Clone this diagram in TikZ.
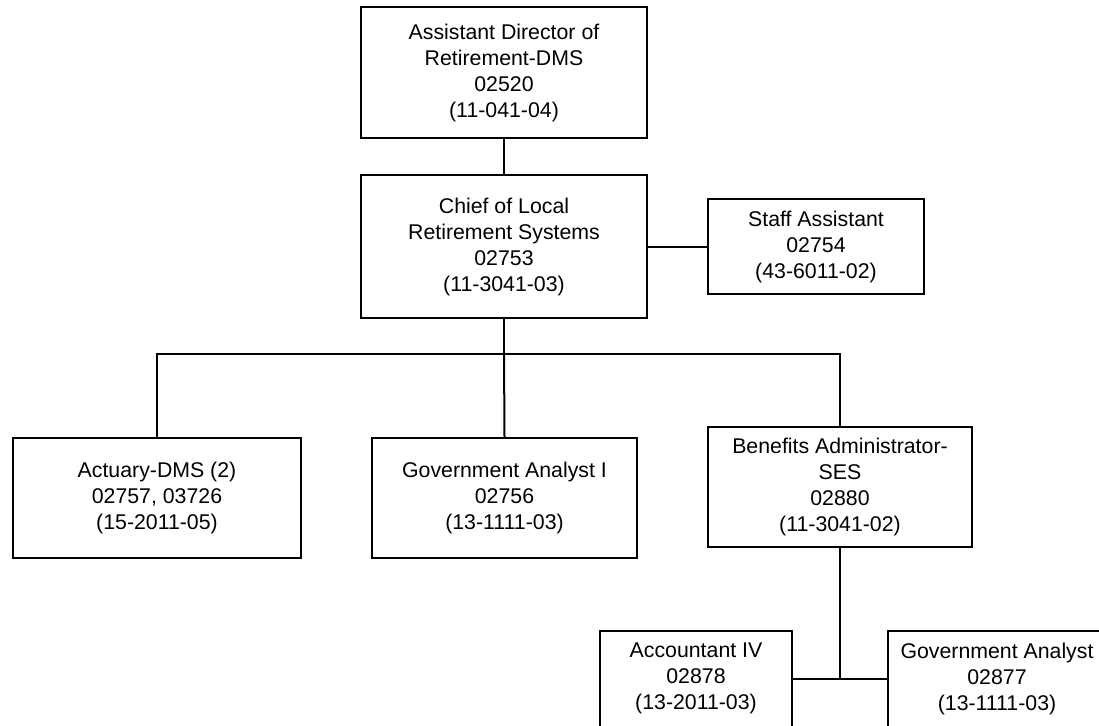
\documentclass[tikz,border=0pt]{standalone}
\usepackage{fontspec}
\setmainfont{Liberation Sans}
\newcommand\orgfont{\fontsize{21.3}{26}\selectfont}
\begin{document}
\begin{tikzpicture}[x=1pt, y=-1pt,
  box/.style={draw, rectangle, line width=2pt, inner sep=0pt, align=center, font=\orgfont},
  link/.style={line width=2pt}]
\useasboundingbox (0,0) rectangle (1099,725);

% positions
\node[box, minimum width=286pt, minimum height=131pt] (dir) at (504,72.5)
  {Assistant Director of\\Retirement-DMS\\02520\\(11-041-04)};
\node[box, minimum width=286pt, minimum height=143pt] (chief) at (504,246.5)
  {Chief of Local\\Retirement Systems\\02753\\(11-3041-03)};
\node[box, minimum width=216pt, minimum height=95pt] (staff) at (816,246.5)
  {Staff Assistant\\02754\\(43-6011-02)};
\node[box, minimum width=288pt, minimum height=120pt] (act) at (157,498)
  {Actuary-DMS (2)\\02757, 03726\\(15-2011-05)};
\node[box, minimum width=265pt, minimum height=120pt] (gai) at (504.5,498)
  {Government Analyst I\\02756\\(13-1111-03)};
\node[box, minimum width=264pt, minimum height=120pt] (ben) at (840,487)
  {Benefits Administrator-\\SES\\02880\\(11-3041-02)};
\node[box, minimum width=192pt, minimum height=96pt] (acc) at (696,678.5)
  {Accountant IV\\02878\\(13-2011-03)};
\node[box, minimum width=218pt, minimum height=96pt] (gov) at (997,678.5)
  {Government Analyst\\02877\\(13-1111-03)};

\coordinate (bus) at (504,354);
\coordinate (sub) at (840,678.5);

% connectors
\draw[link] (dir.south) -- (chief.north);
\draw[link] (chief.east) -- (staff.west);
\draw[link] (chief.south) -- (bus);
\draw[link] (act.north) |- (bus) -| (ben.north);
\draw[link] (bus) -- (gai.north);
\draw[link] (ben.south) -- (sub);
\draw[link] (acc.east) -- (gov.west);
\end{tikzpicture}
\end{document}
